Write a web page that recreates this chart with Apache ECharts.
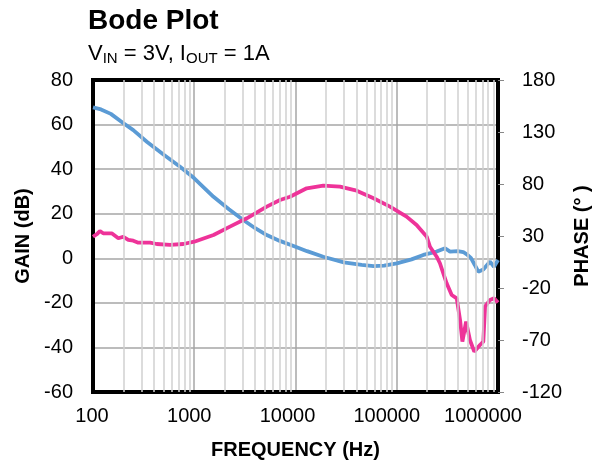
<!DOCTYPE html>
<html>
<head>
<meta charset="utf-8">
<script src="https://cdn.jsdelivr.net/npm/echarts@6/dist/echarts.min.js"></script>
<style>
	html, body { margin: 0; padding: 0; background: #fff; }
	#chart { width: 601px; height: 468px; }
</style>
</head>
<body>
<div id="chart"></div>
<script>
	// gain curve (dB)
	const gainFreq = [100, 120, 150, 200, 250, 340, 500, 724, 1000, 1550, 2200, 3050, 4000, 5200, 7000, 10000, 13000, 18800, 30000, 45000, 59000, 75000, 100000, 140000, 183000, 248000, 300000, 336000, 400000, 454000, 500000, 540000, 590000, 638000, 716000, 780000, 834000, 913000, 1000000];
	const gainDb = [67.7, 66.8, 64.8, 60.6, 57.5, 52.3, 46.5, 41.1, 35.9, 27.6, 22, 17.2, 13.5, 10.4, 7.8, 5.2, 3.2, 0.7, -1.8, -3.0, -3.5, -3.3, -2.3, -0.5, 1.5, 3.0, 4.5, 3.0, 3.2, 2.8, 1.5, 0.2, -3, -6.0, -5, -3.0, -1.5, -3.8, -0.8];

	// phase curve (deg)
	const phaseFreq = [100, 110, 117, 126, 153, 178, 199, 223, 250, 280, 366, 426, 577, 780, 1000, 1550, 2250, 3300, 5200, 7030, 8830, 12900, 18800, 27500, 40200, 59000, 85700, 125000, 157000, 198000, 213000, 248000, 267000, 311000, 349000, 391000, 422000, 445000, 484000, 528000, 583000, 663000, 716000, 745000, 834000, 913000, 1000000];
	const phaseDeg = [29.3, 32, 34.8, 32.6, 32.6, 27.8, 29.3, 26.2, 25.5, 23.6, 23.6, 22.3, 21.4, 22.3, 24.5, 31, 39, 47, 58.2, 64.6, 67.8, 75.9, 78.4, 77.4, 73.6, 66.3, 58.2, 48.6, 40.6, 29.3, 19.7, 10.1, 3.8, -15.5, -26.7, -29.9, -50.8, -71.6, -52.4, -70, -81.2, -74.8, -71.6, -38, -31.5, -29.9, -34];

	// decade tick labels
	const freqLabels = ["100", "1000", "10000", "100000", "1000000"];

	// minor log grid lines
	const minorFreq = [];
	[100, 1000, 10000, 100000].forEach(d => {
		for (let k = 2; k <= 9; k++) minorFreq.push(d * k);
	});

	const font = "'Liberation Sans', Arial, sans-serif";

	// excel squeezes the decade labels a bit to the left
	const labelShift = [2, 10, 16, 20, 30];
	const labelRich = {};
	labelShift.forEach((s, i) => {
		labelRich["d" + i] = { fontFamily: font, fontSize: 20, color: "#000", padding: [0, s, 0, 0] };
	});

	const chart = echarts.init(document.getElementById("chart"), null, { renderer: "canvas" });

	const option = {
		animation: false,
		title: [
			{
				text: "Bode Plot",
				left: 83,
				top: 2,
				textStyle: { fontFamily: font, fontSize: 28, fontWeight: "bold", color: "#000" }
			},
			{
				text: "V{sub|IN} = 3V, I{sub|OUT} = 1A",
				left: 83,
				top: 37,
				textStyle: {
					fontFamily: font,
					fontSize: 22,
					fontWeight: "normal",
					color: "#000",
					rich: {
						sub: { fontFamily: font, fontSize: 15, fontWeight: "normal", color: "#000", verticalAlign: "bottom", padding: [9, 0, 0, 0] }
					}
				}
			}
		],
		grid: { left: 93, right: 103, top: 80, bottom: 76 },
		xAxis: [
			{
				type: "log",
				logBase: 10,
				min: 100,
				max: 1000000,
				name: "FREQUENCY (Hz)",
				nameLocation: "middle",
				nameGap: 48,
				nameTextStyle: { fontFamily: font, fontSize: 20, fontWeight: "bold", color: "#000" },
				axisLine: { show: true, onZero: false, lineStyle: { color: "#000", width: 4, cap: "square" } },
				axisTick: { show: false },
				axisLabel: {
					margin: 14,
					fontFamily: font,
					fontSize: 20,
					color: "#000",
					formatter: v => {
						const i = freqLabels.indexOf(String(Math.round(v)));
						return i < 0 ? "" : "{d" + i + "|" + freqLabels[i] + "}";
					},
					rich: labelRich
				},
				splitLine: { show: true, lineStyle: { color: "#a6a6a6", width: 1.5 } }
			},
			{
				type: "log",
				logBase: 10,
				min: 100,
				max: 1000000,
				position: "top",
				axisLine: { show: true, onZero: false, lineStyle: { color: "#000", width: 4, cap: "square" } },
				axisTick: { show: false },
				axisLabel: { show: false },
				splitLine: { show: false }
			}
		],
		yAxis: [
			{
				type: "value",
				min: -60,
				max: 80,
				interval: 20,
				name: "GAIN (dB)",
				nameLocation: "middle",
				nameRotate: 90,
				nameGap: 60,
				nameTextStyle: { fontFamily: font, fontSize: 20, fontWeight: "bold", color: "#000" },
				axisLine: { show: true, onZero: false, lineStyle: { color: "#000", width: 4, cap: "square" } },
				axisTick: { show: false },
				axisLabel: { margin: 20, fontFamily: font, fontSize: 20, color: "#000" },
				splitLine: { show: true, lineStyle: { color: "#a6a6a6", width: 1.5 } }
			},
			{
				type: "value",
				min: -120,
				max: 180,
				interval: 50,
				position: "right",
				name: "PHASE (° )",
				nameLocation: "middle",
				nameRotate: 90,
				nameGap: 67,
				nameTextStyle: { fontFamily: font, fontSize: 20, fontWeight: "bold", color: "#000" },
				axisLine: { show: true, onZero: false, lineStyle: { color: "#000", width: 4, cap: "square" } },
				axisTick: { show: true, length: 6, lineStyle: { color: "#888", width: 1 } },
				axisLabel: { margin: 24, fontFamily: font, fontSize: 20, color: "#000" },
				splitLine: { show: false }
			}
		],
		series: [
			{
				name: "grid",
				type: "line",
				data: [],
				silent: true,
				markLine: {
					silent: true,
					symbol: "none",
					label: { show: false },
					lineStyle: { color: "#d0d0d0", width: 1.5, type: "solid" },
					data: minorFreq.map(f => ({ xAxis: f }))
				}
			},
			{
				name: "GAIN",
				type: "line",
				xAxisIndex: 0,
				yAxisIndex: 0,
				showSymbol: false,
				data: gainFreq.map((f, i) => [f, gainDb[i]]),
				lineStyle: { color: "#5b9bd5", width: 3.8 },
				itemStyle: { color: "#5b9bd5" }
			},
			{
				name: "PHASE",
				type: "line",
				xAxisIndex: 0,
				yAxisIndex: 1,
				showSymbol: false,
				data: phaseFreq.map((f, i) => [f, phaseDeg[i]]),
				lineStyle: { color: "#ee3399", width: 3.8 },
				itemStyle: { color: "#ee3399" }
			}
		]
	};

	chart.setOption(option);
</script>
</body>
</html>
